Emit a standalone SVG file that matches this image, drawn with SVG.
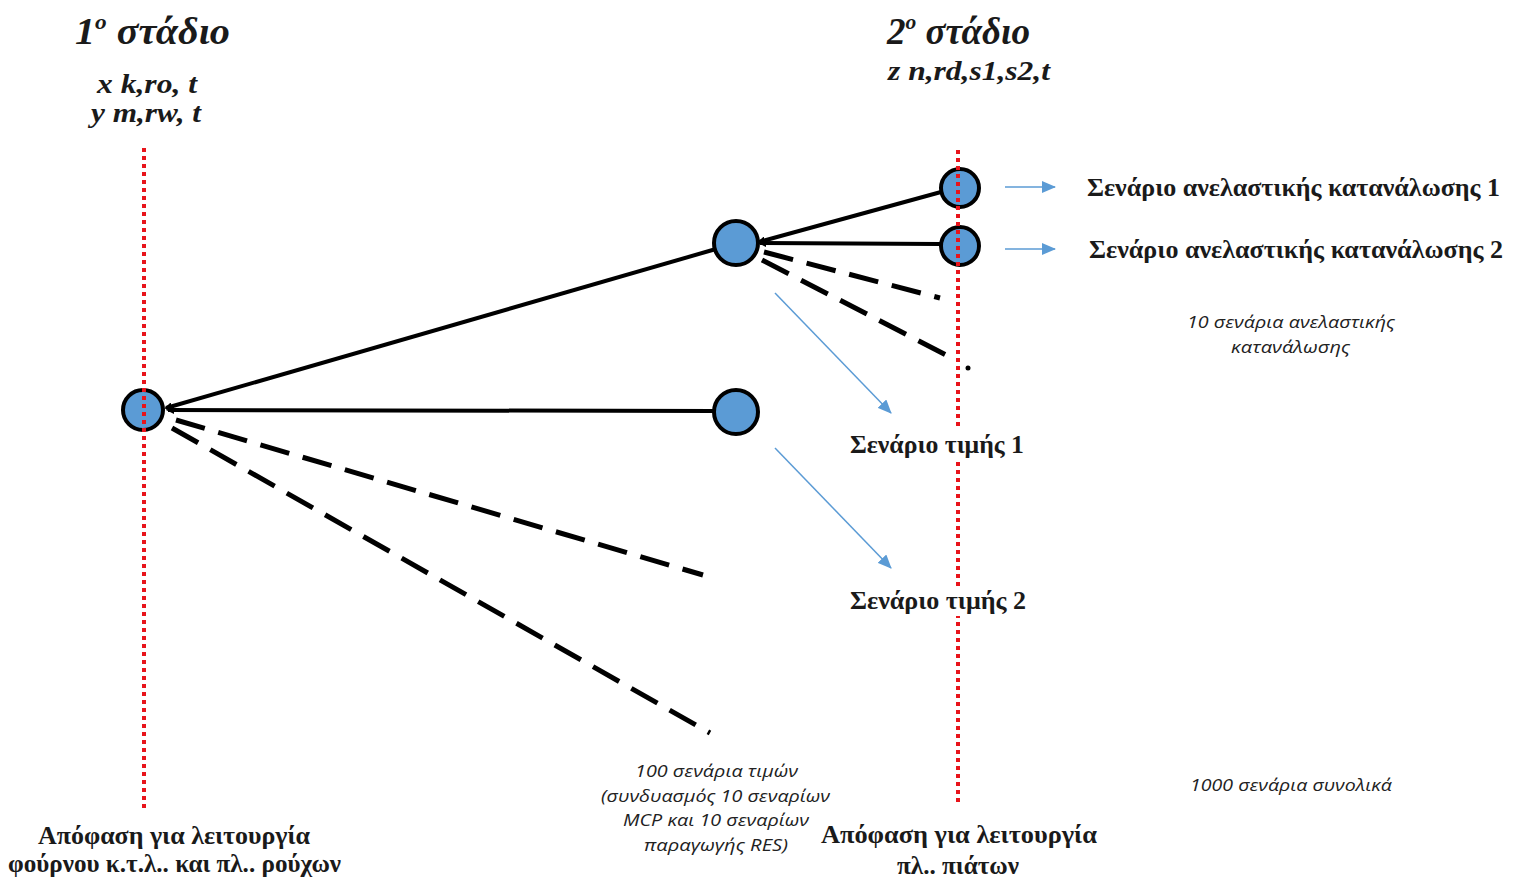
<svg xmlns="http://www.w3.org/2000/svg" width="1517" height="878" viewBox="0 0 1517 878">
<defs>
<marker id="bh" markerWidth="8" markerHeight="8" refX="6" refY="4" orient="auto" markerUnits="userSpaceOnUse" viewBox="0 0 8 8"><path d="M0,0 L8,4 L0,8 Z" fill="#000"/></marker>
<marker id="blue" markerWidth="14" markerHeight="12" refX="13" refY="6" orient="auto" markerUnits="userSpaceOnUse" viewBox="0 0 14 12"><path d="M0,0 L14,6 L0,12 Z" fill="#5b9bd5"/></marker>
<style>
.stage{stroke:#e8141b;stroke-width:4;stroke-dasharray:4 4;fill:none}
.node{fill:#5b9bd5;stroke:#000;stroke-width:4}
.solid{stroke:#000;stroke-width:4;fill:none}
.dash{stroke:#000;stroke-width:5;stroke-dasharray:30 14;fill:none}
.barrow{stroke:#5b9bd5;stroke-width:1.5;fill:none}
.title{font-family:"Liberation Serif",serif;font-style:italic;font-weight:bold;font-size:38px;fill:#1a1a1a}
.var{font-family:"Liberation Serif",serif;font-style:italic;font-weight:bold;font-size:28px;fill:#1a1a1a}
.lbl{font-family:"Liberation Serif",serif;font-weight:bold;font-size:25px;fill:#1a1a1a}
.note{font-family:"Open Sans","Noto Sans",sans-serif;font-style:italic;font-size:17px;fill:#222}
</style>
</defs>
<rect width="1517" height="878" fill="#fff"/>
<g id="connectors">
<line class="solid" x1="716" y1="249" x2="166" y2="408" marker-end="url(#bh)"/>
<line class="solid" x1="714" y1="411" x2="168" y2="410" marker-end="url(#bh)"/>
<line class="dash" x1="176" y1="420" x2="703" y2="575"/>
<line class="dash" x1="172" y1="428" x2="710" y2="733"/>
<line class="solid" x1="941" y1="192" x2="759" y2="242" marker-end="url(#bh)"/>
<line class="solid" x1="940" y1="244" x2="760" y2="243" marker-end="url(#bh)"/>
<line class="dash" x1="764" y1="252" x2="940" y2="298"/>
<line class="dash" x1="762" y1="260" x2="952" y2="358"/>
<circle cx="968" cy="368" r="2.5" fill="#000"/>
<line class="barrow" x1="1005" y1="187" x2="1055" y2="187" marker-end="url(#blue)"/>
<line class="barrow" x1="1005" y1="249" x2="1055" y2="249" marker-end="url(#blue)"/>
<line class="barrow" x1="775" y1="293" x2="891" y2="413" marker-end="url(#blue)"/>
<line class="barrow" x1="775" y1="448" x2="891" y2="568" marker-end="url(#blue)"/>
</g>
<g id="node-root"><circle class="node" cx="143" cy="410" r="20"/></g>
<g id="node-b"><circle class="node" cx="736" cy="243" r="22"/></g>
<g id="node-c"><circle class="node" cx="736" cy="412" r="22"/></g>
<g id="node-d"><circle class="node" cx="960" cy="188" r="19"/></g>
<g id="node-e"><circle class="node" cx="960" cy="246" r="19"/></g>
<g id="stage-lines">
<line class="stage" x1="144" y1="148" x2="144" y2="812"/>
<line class="stage" x1="958" y1="150" x2="958" y2="806"/>
</g>
<g id="stage1-title">
<text class="title" x="75" y="44" textLength="155" lengthAdjust="spacingAndGlyphs">1<tspan font-size="22" dy="-15">ο</tspan><tspan dy="15"> στάδιο</tspan></text>
<text class="var" x="97" y="93" textLength="100" lengthAdjust="spacingAndGlyphs">x  k,ro, t</text>
<text class="var" x="91" y="122" textLength="110" lengthAdjust="spacingAndGlyphs">y m,rw, t</text>
</g>
<g id="stage2-title">
<text class="title" x="887" y="44" textLength="143" lengthAdjust="spacingAndGlyphs">2<tspan font-size="22" dy="-15">ο</tspan><tspan dy="15"> στάδιο</tspan></text>
<text class="var" x="888" y="80" textLength="162" lengthAdjust="spacingAndGlyphs">z n,rd,s1,s2,t</text>
</g>
<g id="labels">
<text class="lbl" x="1087" y="196" textLength="413" lengthAdjust="spacingAndGlyphs">Σενάριο ανελαστικής κατανάλωσης 1</text>
<text class="lbl" x="1089" y="258" textLength="414" lengthAdjust="spacingAndGlyphs">Σενάριο ανελαστικής κατανάλωσης 2</text>
<rect x="845" y="430" width="184" height="30" fill="#fff"/>
<text class="lbl" x="850" y="453" textLength="174" lengthAdjust="spacingAndGlyphs">Σενάριο τιμής 1</text>
<rect x="845" y="586" width="186" height="30" fill="#fff"/>
<text class="lbl" x="850" y="609" textLength="176" lengthAdjust="spacingAndGlyphs">Σενάριο τιμής 2</text>
<text class="note" x="1187" y="328" textLength="208" lengthAdjust="spacingAndGlyphs">10 σενάρια ανελαστικής</text>
<text class="note" x="1231" y="353" textLength="119" lengthAdjust="spacingAndGlyphs">κατανάλωσης</text>
<text class="note" x="635" y="777" textLength="163" lengthAdjust="spacingAndGlyphs">100 σενάρια τιμών</text>
<text class="note" x="601" y="802" textLength="229" lengthAdjust="spacingAndGlyphs">(συνδυασμός 10 σεναρίων</text>
<text class="note" x="623" y="826" textLength="186" lengthAdjust="spacingAndGlyphs">MCP και 10 σεναρίων</text>
<text class="note" x="644" y="851" textLength="144" lengthAdjust="spacingAndGlyphs">παραγωγής RES)</text>
<text class="note" x="1190" y="791" textLength="202" lengthAdjust="spacingAndGlyphs">1000 σενάρια συνολικά</text>
<text class="lbl" x="38" y="844" textLength="272" lengthAdjust="spacingAndGlyphs">Απόφαση για λειτουργία</text>
<text class="lbl" x="8" y="872" textLength="333" lengthAdjust="spacingAndGlyphs">φούρνου κ.τ.λ.. και πλ.. ρούχων</text>
<rect x="816" y="816" width="286" height="62" fill="#fff"/>
<text class="lbl" x="821" y="843" textLength="276" lengthAdjust="spacingAndGlyphs">Απόφαση για λειτουργία</text>
<text class="lbl" x="897" y="874" textLength="122" lengthAdjust="spacingAndGlyphs">πλ.. πιάτων</text>
</g>
</svg>
